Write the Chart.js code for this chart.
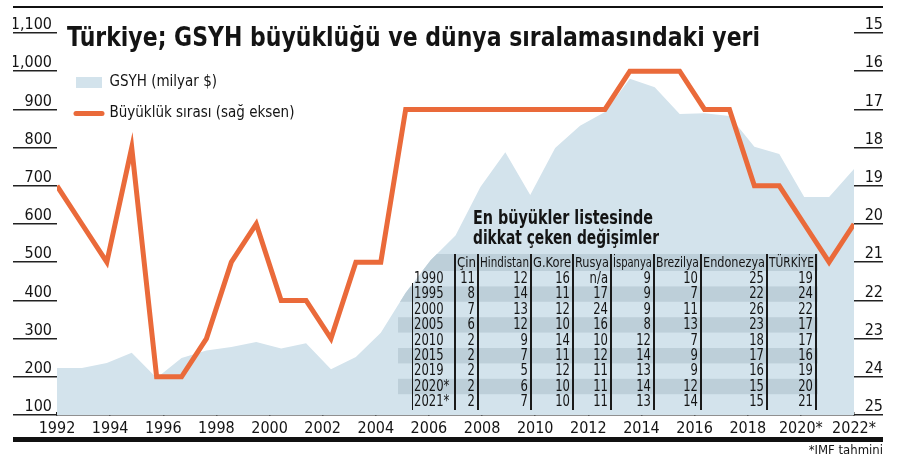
<!DOCTYPE html>
<html lang="tr">
<head>
<meta charset="utf-8">
<title>Türkiye; GSYH büyüklüğü ve dünya sıralamasındaki yeri</title>
<script src="https://cdn.jsdelivr.net/npm/chart.js@4.4.1/dist/chart.umd.min.js"></script>
<style>
  body { margin: 0; background: #fff; }
  #wrap {
    position: relative; width: 900px; height: 467px; overflow: hidden;
    font-family: 'Liberation Sans Narrow', 'DejaVu Sans Condensed', 'Roboto', sans-serif;
    color: #141414;
  }
  #grafik { position: absolute; left: 0; top: 0; }
  .abs { position: absolute; white-space: nowrap; }
  .rule { position: absolute; background: #111; }
  #baslik { left: 67px; top: 20px; font-size: 27px; font-weight: bold; line-height: 34px; transform-origin: 0 50%; }
  .tbaslik { left: 473px; font-size: 19px; font-weight: bold; line-height: 20px; transform-origin: 0 50%; }
  #dipnot { right: 17px; top: 442px; font-size: 13px; line-height: 16px; }
  .hucre { position: absolute; white-space: nowrap; font-size: 15px; }
  .sol { transform-origin: 0 50%; transform: scaleX(0.86); }
  .sag { transform-origin: 100% 50%; transform: scaleX(0.86); text-align: right; }
  .bas { font-size: 14px; transform-origin: 0 50%; }
  .cizgi { position: absolute; width: 1.5px; background: #1a1a1a; }
</style>
</head>
<body>
<div id="wrap">
  <canvas id="grafik" width="900" height="467"></canvas>
  <div class="rule" style="left:13px;top:6px;width:870px;height:2px"></div>
  <div class="rule" style="left:13px;top:437px;width:870px;height:5px"></div>
  <div id="baslik" class="abs">Türkiye; GSYH büyüklüğü ve dünya sıralamasındaki yeri</div>
  <div class="abs tbaslik" style="top:207px">En büyükler listesinde</div>
  <div class="abs tbaslik" style="top:227px">dikkat çeken değişimler</div>
  <div id="dipnot" class="abs">*IMF tahmini</div>
</div>
<script>
// Veriler: 1990-2022 (grafikte 1992-2022 ekseni boyunca çizilmiş)
const yillar = [1990, 1991, 1992, 1993, 1994, 1995, 1996, 1997, 1998, 1999, 2000,
  2001, 2002, 2003, 2004, 2005, 2006, 2007, 2008, 2009, 2010,
  2011, 2012, 2013, 2014, 2015, 2016, 2017, 2018, 2019, 2020, 2021, 2022];
const gsyh = [223, 223, 236, 263, 197, 249, 269, 278, 291, 274, 288,
  220, 252, 315, 420, 505, 570, 697, 788, 676, 799,
  857, 893, 980, 958, 888, 890, 883, 802, 783, 671, 671, 744];
const sira = [19, 20, 21, 18, 24, 24, 23, 21, 20, 22, 22,
  23, 21, 21, 17, 17, 17, 17, 17, 17, 17,
  17, 17, 16, 16, 16, 17, 17, 19, 19, 20, 21, 20];

// Yatay eksen etiketleri
const eksenYillari = [1992, 1994, 1996, 1998, 2000, 2002, 2004, 2006, 2008, 2010, 2012, 2014, 2016, 2018, 2020, 2022];
const eksenEtiketleri = ['1992', '1994', '1996', '1998', '2000', '2002', '2004', '2006', '2008', '2010', '2012', '2014', '2016', '2018', '2020*', '2022*'];

// Tablo
const tabloUlkeler = ['Çin', 'Hindistan', 'G.Kore', 'Rusya', 'İspanya', 'Brezilya', 'Endonezya', 'TÜRKİYE'];
const tabloYillar = ['1990', '1995', '2000', '2005', '2010', '2015', '2019', '2020*', '2021*'];
const tabloSira = [
  ['11', '12', '16', 'n/a', '9', '10', '25', '19'],
  ['8', '14', '11', '17', '9', '7', '22', '24'],
  ['7', '13', '12', '24', '9', '11', '26', '22'],
  ['6', '12', '10', '16', '8', '13', '23', '17'],
  ['2', '9', '14', '10', '12', '7', '18', '17'],
  ['2', '7', '11', '12', '14', '9', '17', '16'],
  ['2', '5', '12', '11', '13', '9', '16', '19'],
  ['2', '6', '10', '11', '14', '12', '15', '20'],
  ['2', '7', '10', '11', '13', '14', '15', '21']
];

// Tablo yerleşimi (piksel)
const T = { left: 398, right: 818, headTop: 254, headH: 17, rowTop: 271, rowH: 15.4, yearX: 414,
  seps: [455, 478, 531, 573, 611, 654, 701, 767, 816] };

const YAZI = "'Liberation Sans Narrow', 'DejaVu Sans Condensed', 'Roboto', sans-serif";
const MAVI = '#d3e3ec';
const KOYU = '#bdcfd9';
const TURUNCU = '#ea6a3a';
const CIZGI = '#222';

// Tablo şeritleri alanın içine kırpılarak çizilir
const tabloSeritleri = {
  id: 'tabloSeritleri',
  afterDatasetDraw(chart, args) {
    if (args.index !== 0) return;
    const pts = args.meta.data;
    const alt = chart.chartArea.bottom;
    const c = chart.ctx;
    c.save();
    c.beginPath();
    c.moveTo(pts[0].x, alt);
    pts.forEach(p => c.lineTo(p.x, p.y));
    c.lineTo(pts[pts.length - 1].x, alt);
    c.closePath();
    c.clip();
    c.fillStyle = KOYU;
    c.fillRect(T.left, T.headTop, T.right - T.left, T.headH);
    for (let r = 1; r < tabloYillar.length; r += 2) {
      c.fillRect(T.left, T.rowTop + r * T.rowH, T.right - T.left, T.rowH);
    }
    c.restore();
  }
};

// Lejant konumu
const LEJ = { x: 76, y: 75, pad: 16, size: 15 };
const lejantYeri = {
  id: 'lejantYeri',
  afterLayout(chart) {
    chart.legend.left = LEJ.x - LEJ.pad;
    chart.legend.top = LEJ.y - LEJ.pad;
  }
};

Chart.defaults.font.family = YAZI;
Chart.defaults.color = '#141414';

new Chart(document.getElementById('grafik'), {
  type: 'line',
  data: {
    labels: yillar,
    datasets: [
      {
        label: 'GSYH (milyar $)',
        data: gsyh,
        xAxisID: 'xd', yAxisID: 'y',
        fill: 'start',
        backgroundColor: MAVI,
        borderWidth: 0,
        pointRadius: 0,
        tension: 0,
        order: 2
      },
      {
        label: 'Büyüklük sırası (sağ eksen)',
        data: sira,
        xAxisID: 'xd', yAxisID: 'y2',
        fill: false,
        borderColor: TURUNCU,
        borderWidth: 5,
        borderJoinStyle: 'miter',
        pointRadius: 0,
        tension: 0,
        order: 1
      }
    ]
  },
  options: {
    responsive: false,
    animation: false,
    locale: 'en-US',
    layout: { padding: { left: 13, right: 17, top: 33, bottom: 0 } },
    scales: {
      xd: { type: 'linear', min: 1990, max: 2022, display: false },
      x: {
        type: 'linear', position: 'bottom', min: 1992, max: 2022,
        afterBuildTicks: s => { s.ticks = eksenYillari.map(v => ({ value: v })); },
        afterFit: s => { s.height = 52; },
        grid: { drawOnChartArea: false, drawTicks: true, tickLength: -3, color: CIZGI, lineWidth: 1.5 },
        border: { display: true, color: CIZGI, width: 1.5 },
        ticks: { padding: 7, maxRotation: 0, autoSkip: false, font: { size: 16 },
          callback: (v, i) => eksenEtiketleri[i] }
      },
      y: {
        position: 'left', min: 100, max: 1100,
        afterFit: s => { s.width = 44; },
        grid: { drawOnChartArea: false, tickLength: 44, color: CIZGI, lineWidth: 1.5 },
        border: { display: false },
        ticks: { stepSize: 100, padding: -39, labelOffset: -8, font: { size: 16 } }
      },
      y2: {
        position: 'right', min: 15, max: 25, reverse: true,
        afterFit: s => { s.width = 29; },
        grid: { drawOnChartArea: false, tickLength: 29, color: CIZGI, lineWidth: 1.5 },
        border: { display: false },
        ticks: { stepSize: 1, crossAlign: 'far', labelOffset: -8, font: { size: 16 } }
      }
    },
    plugins: {
      tooltip: { enabled: false },
      legend: {
        position: 'chartArea', align: 'start',
        labels: {
          usePointStyle: true, pointStyleWidth: 26, boxHeight: 11, padding: LEJ.pad,
          font: { size: LEJ.size }, color: '#141414',
          generateLabels: chart => chart.data.datasets.map((ds, i) => ({
            text: ds.label,
            datasetIndex: i,
            fillStyle: i ? ds.borderColor : ds.backgroundColor,
            strokeStyle: i ? ds.borderColor : ds.backgroundColor,
            lineWidth: i ? 5 : 0,
            lineCap: 'round',
            pointStyle: i ? 'line' : 'rect',
            fontColor: '#141414',
            hidden: false
          }))
        }
      }
    }
  },
  plugins: [tabloSeritleri, lejantYeri]
});

// Tablo metinleri
const wrap = document.getElementById('wrap');
function ekle(cls, text, css) {
  const d = document.createElement('div');
  d.className = cls;
  d.textContent = text;
  Object.assign(d.style, css);
  wrap.appendChild(d);
  return d;
}
// Metni hedef genişliğe oturt
function sigdir(el, w) {
  const olc = el.getBoundingClientRect().width;
  if (olc > 0) el.style.transform = 'scaleX(' + (w / olc) + ')';
}

const altKenar = T.rowTop + tabloYillar.length * T.rowH;
tabloUlkeler.forEach((u, c) => {
  const d = ekle('hucre bas', u, { left: (T.seps[c] + 2) + 'px', top: T.headTop + 'px', lineHeight: T.headH + 'px' });
  sigdir(d, T.seps[c + 1] - T.seps[c] - 4);
});
tabloYillar.forEach((y, r) => {
  const top = T.rowTop + r * T.rowH;
  ekle('hucre sol', y, { left: T.yearX + 'px', top: top + 'px', lineHeight: T.rowH + 'px' });
  tabloSira[r].forEach((v, c) => {
    ekle('hucre sag', v, {
      left: T.seps[c] + 'px', width: (T.seps[c + 1] - T.seps[c] - 3) + 'px',
      top: top + 'px', lineHeight: T.rowH + 'px'
    });
  });
});
T.seps.forEach(x => {
  ekle('cizgi', '', { left: (x - 0.75) + 'px', top: T.headTop + 'px', height: (altKenar - T.headTop) + 'px' });
});
ekle('cizgi', '', { left: '411.5px', top: '283px', height: (altKenar - 283) + 'px' });

sigdir(document.getElementById('baslik'), 693);
const tb = document.querySelectorAll('.tbaslik');
sigdir(tb[0], 180);
sigdir(tb[1], 186);
</script>
</body>
</html>
